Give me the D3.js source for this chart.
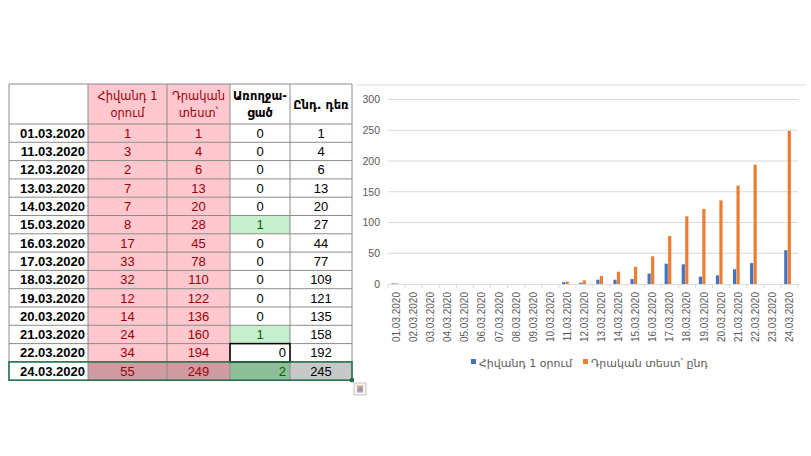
<!DOCTYPE html>
<html>
<head>
<meta charset="utf-8">
<script src="https://cdn.jsdelivr.net/npm/d3@7"></script>
<style>
  body { margin: 0; background: #fff; }
  svg { display: block; }
</style>
</head>
<body>
<div id="chart"></div>
<script>
const width = 811;
const height = 456;

// table data
const tableDates = ['01.03.2020', '11.03.2020', '12.03.2020', '13.03.2020', '14.03.2020',
  '15.03.2020', '16.03.2020', '17.03.2020', '18.03.2020', '19.03.2020', '20.03.2020',
  '21.03.2020', '22.03.2020', '24.03.2020'];
const newCases = [1, 3, 2, 7, 7, 8, 17, 33, 32, 12, 14, 24, 34, 55];
const totalPositive = [1, 4, 6, 13, 20, 28, 45, 78, 110, 122, 136, 160, 194, 249];
const recovered = [0, 0, 0, 0, 0, 1, 0, 0, 0, 0, 0, 1, 0, 2];
const active = [1, 4, 6, 13, 20, 27, 44, 77, 109, 121, 135, 158, 192, 245];
const headers = [[''], ['Հիվանդ 1', 'օրում'], ['Դրական', 'տեստ՝'], ['Առողջա-', 'ցած'], ['Ընդ. դեռ']];

// chart data
const chartDays = ['01.03.2020', '02.03.2020', '03.03.2020', '04.03.2020', '05.03.2020',
  '06.03.2020', '07.03.2020', '08.03.2020', '09.03.2020', '10.03.2020', '11.03.2020',
  '12.03.2020', '13.03.2020', '14.03.2020', '15.03.2020', '16.03.2020', '17.03.2020',
  '18.03.2020', '19.03.2020', '20.03.2020', '21.03.2020', '22.03.2020', '23.03.2020',
  '24.03.2020'];
const seriesNames = ['Հիվանդ 1 օրում', 'Դրական տեստ՝ ընդ'];
const seriesColors = ['#4472c4', '#ed7d31'];
const yTicks = [0, 50, 100, 150, 200, 250, 300];

const svg = d3.select('#chart')
  .append('svg')
    .attr('width', width)
    .attr('height', height);

const font = "'Liberation Sans', 'DejaVu Sans', sans-serif";

// ---------- table ----------
const colEdges = [9, 88, 167, 230, 290, 352];
const headerTop = 84;
const headerBottom = 124;
const rowH = 18.3;

const table = svg.append('g');

// column backgrounds
const pink = '#ffc7ce', pinkText = '#9c0006';
const green = '#c6efce', greenText = '#006100';

table.selectAll('rect.hbg')
  .data([1, 2])
  .join('rect')
    .attr('x', d => colEdges[d])
    .attr('y', headerTop)
    .attr('width', d => colEdges[d + 1] - colEdges[d])
    .attr('height', headerBottom - headerTop)
    .attr('fill', pink);

const rows = table.selectAll('g.row')
  .data(tableDates.map((d, i) => ({
    date: d, vals: [newCases[i], totalPositive[i], recovered[i], active[i]], i
  })))
  .join('g')
    .attr('transform', d => `translate(0, ${headerBottom + d.i * rowH})`);

const last = tableDates.length - 1;
const active22 = tableDates.indexOf('22.03.2020');

rows.each(function(r) {
  const g = d3.select(this);
  r.vals.forEach((v, c) => {
    const col = c + 1;
    let fill = null, color = '#000';
    let anchor = 'middle';
    let xText = (colEdges[col] + colEdges[col + 1]) / 2;
    if (col === 1 || col === 2) { fill = pink; color = pinkText; }
    if (col === 3 && v > 0) { fill = green; color = greenText; }
    if (r.i === last) {
      if (col === 1 || col === 2) fill = '#cf9aa1';
      if (col === 3) fill = '#8fbf99';
      if (col === 4) fill = '#c8c8c8';
    }
    if (col === 3 && r.i >= active22) { anchor = 'end'; xText = colEdges[col + 1] - 4; }
    if (fill) {
      g.append('rect')
        .attr('x', colEdges[col]).attr('y', 0)
        .attr('width', colEdges[col + 1] - colEdges[col]).attr('height', rowH)
        .attr('fill', fill);
    }
    g.append('text')
      .attr('x', xText).attr('y', rowH / 2 + 4.7)
      .attr('text-anchor', anchor)
      .attr('font-family', font).attr('font-size', 13)
      .attr('fill', color)
      .text(v);
  });
  g.append('text')
    .attr('x', colEdges[1] - 3).attr('y', rowH / 2 + 4.7)
    .attr('text-anchor', 'end')
    .attr('font-family', font).attr('font-size', 13).attr('font-weight', 'bold')
    .attr('fill', '#000')
    .text(r.date);
});

// header texts
headers.forEach((lines, c) => {
  const cx = (colEdges[c] + colEdges[c + 1]) / 2;
  const red = c === 1 || c === 2;
  const y0 = lines.length === 1 ? 109 : 100;
  lines.forEach((l, k) => {
    table.append('text')
      .attr('x', cx).attr('y', y0 + k * 17)
      .attr('text-anchor', 'middle')
      .attr('font-family', "'DejaVu Sans', sans-serif")
      .attr('font-size', 11.5)
      .attr('font-weight', red ? 'normal' : 'bold')
      .attr('fill', red ? pinkText : '#000')
      .text(l);
  });
});

// grid lines
const tableBottom = headerBottom + tableDates.length * rowH;
table.selectAll('line.v')
  .data(colEdges)
  .join('line')
    .attr('x1', d => d).attr('x2', d => d)
    .attr('y1', headerTop).attr('y2', tableBottom)
    .attr('stroke', '#8c8c8c').attr('stroke-width', 1);
table.selectAll('line.h')
  .data([headerTop, headerBottom].concat(tableDates.map((d, i) => headerBottom + (i + 1) * rowH)))
  .join('line')
    .attr('x1', colEdges[0]).attr('x2', colEdges[5])
    .attr('y1', d => d).attr('y2', d => d)
    .attr('stroke', '#8c8c8c').attr('stroke-width', 1);

// active cell (22.03, recovered)
table.append('rect')
  .attr('x', colEdges[3]).attr('y', headerBottom + active22 * rowH)
  .attr('width', colEdges[4] - colEdges[3]).attr('height', rowH)
  .attr('fill', 'none').attr('stroke', '#000').attr('stroke-width', 1.5);

// selected last row
table.append('rect')
  .attr('x', colEdges[0]).attr('y', headerBottom + last * rowH)
  .attr('width', colEdges[5] - colEdges[0]).attr('height', rowH)
  .attr('fill', 'none').attr('stroke', '#217346').attr('stroke-width', 1.5);
table.append('rect')
  .attr('x', colEdges[5] - 2).attr('y', tableBottom - 2)
  .attr('width', 4).attr('height', 4)
  .attr('fill', '#217346');

// paste options icon
const icon = svg.append('g').attr('transform', 'translate(354, 383)');
icon.append('rect').attr('width', 12).attr('height', 12)
  .attr('fill', '#f4f4f4').attr('stroke', '#c6c6c6');
icon.append('rect').attr('x', 3).attr('y', 2.5).attr('width', 6).attr('height', 7)
  .attr('fill', '#e8a27a');
icon.append('rect').attr('x', 4.5).attr('y', 4.5).attr('width', 4).attr('height', 4)
  .attr('fill', '#7f9fd4');

// ---------- bar chart ----------
const plotLeft = 388, plotRight = 798;
const x = d3.scaleBand().domain(chartDays).range([plotLeft, plotRight]);
const y = d3.scaleLinear().domain([0, 300]).range([284, 99.5]);

const chart = svg.append('g');

chart.append('line')
  .attr('x1', 356).attr('x2', 806).attr('y1', 85).attr('y2', 85)
  .attr('stroke', '#d9d9d9');

chart.selectAll('line.grid')
  .data(yTicks.slice(1))
  .join('line')
    .attr('x1', plotLeft).attr('x2', plotRight)
    .attr('y1', d => y(d)).attr('y2', d => y(d))
    .attr('stroke', '#d9d9d9');

const axisLeft = d3.axisLeft(y).tickValues(yTicks).tickSize(0).tickPadding(8);
const yAxis = chart.append('g')
  .attr('transform', `translate(${plotLeft}, 0)`)
  .call(axisLeft);
yAxis.select('.domain').remove();
yAxis.selectAll('text')
  .attr('font-family', font).attr('font-size', 10.5).attr('fill', '#595959');

const axisBottom = d3.axisBottom(x).tickSize(0).tickPadding(4);
const xAxis = chart.append('g')
  .attr('transform', `translate(0, ${y(0)})`)
  .call(axisBottom);
xAxis.select('.domain').attr('stroke', '#d9d9d9');
xAxis.selectAll('text')
  .attr('font-family', font).attr('font-size', 10).attr('fill', '#595959')
  .attr('transform', 'rotate(-90)')
  .attr('text-anchor', 'end')
  .attr('x', -8).attr('y', 0).attr('dy', '0.35em');

// boundary tick marks
chart.selectAll('line.tick')
  .data(chartDays.concat(['end']))
  .join('line')
    .attr('x1', (d, i) => plotLeft + i * x.bandwidth())
    .attr('x2', (d, i) => plotLeft + i * x.bandwidth())
    .attr('y1', y(0)).attr('y2', y(0) + 4)
    .attr('stroke', '#d9d9d9');

const barData = [];
chartDays.forEach(day => {
  const i = tableDates.indexOf(day);
  if (i < 0) return;
  [newCases[i], totalPositive[i]].forEach((v, s) => barData.push({ day, s, v }));
});

const slot = 3.5;
chart.selectAll('rect.bar')
  .data(barData)
  .join('rect')
    .attr('x', d => x(d.day) + x.bandwidth() / 2 - 5.25 + d.s * slot)
    .attr('y', d => y(d.v))
    .attr('width', slot - 0.3)
    .attr('height', d => y(0) - y(d.v))
    .attr('fill', d => seriesColors[d.s]);

// legend
const legendX = [471, 583];
const legend = chart.selectAll('g.legend')
  .data(seriesNames)
  .join('g')
    .attr('transform', (d, i) => `translate(${legendX[i]}, 363)`);
legend.append('rect')
  .attr('y', -4).attr('width', 5).attr('height', 5)
  .attr('fill', (d, i) => seriesColors[i]);
legend.append('text')
  .attr('x', 8).attr('y', 3.5)
  .attr('font-family', "'DejaVu Sans', sans-serif").attr('font-size', 11)
  .attr('fill', '#595959')
  .text(d => d);
</script>
</body>
</html>
